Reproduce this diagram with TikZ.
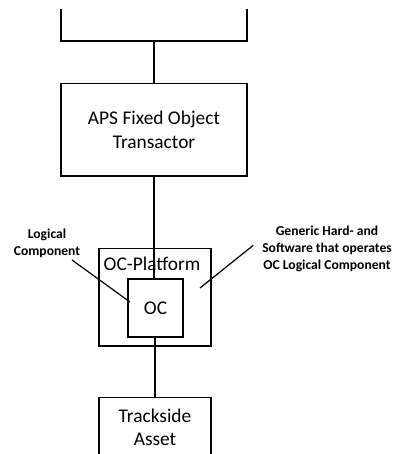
\documentclass[tikz,border=0pt]{standalone}
\usepackage{fontspec}
\setmainfont{Carlito}
\begin{document}
\begin{tikzpicture}[x=1pt,y=-1pt,
  box/.style={draw,line width=1.4pt,inner sep=0pt},
  maintext/.style={font=\fontsize{19.4}{23.3}\selectfont,align=center,inner sep=0pt},
  notetext/.style={font=\fontsize{13.6}{17}\selectfont\bfseries,align=center,inner sep=0pt},
  wire/.style={line width=1.4pt}]
\useasboundingbox (0,0) rectangle (403,454);
\begin{scope}
\clip (0,10) rectangle (403,454);
% upper system block, cut off at the top edge
\node[box,minimum width=186pt,minimum height=71pt] (top) at (154,5.5) {};
% transactor block
\node[box,minimum width=186pt,minimum height=92.5pt,maintext] (aps) at (154,129.75) {APS Fixed Object\\Transactor};
% platform with the logical component inside
\node[box,minimum width=112pt,minimum height=97.3pt] (plat) at (155,297.35) {};
\node[maintext] (platlabel) at (152,263.7) {OC-Platform};
\node[box,minimum width=55pt,minimum height=58.3pt,maintext,fill=white] (oc) at (155.5,308) {OC};
% trackside asset, cut off at the bottom edge
\node[box,minimum width=112pt,minimum height=84.6pt] (track) at (155,440) {};
\node[maintext] (tracklabel) at (155,427) {Trackside\\Asset};
% connections
\draw[wire] (top.south) -- (aps.north);
\draw[wire] (aps.south) -- (aps.south |- oc.north);
\draw[wire] (oc.south -| 155,0) -- (track.north -| 155,0);
\end{scope}
% annotations
\node[notetext] (lognote) at (47,243.5) {Logical\\Component};
\node[notetext] (gennote) at (327,249) {Generic Hard- and\\Software that operates\\OC Logical Component};
\coordinate (logstart) at (72,260);
\coordinate (logend) at (130,302);
\coordinate (genstart) at (253.3,245.3);
\coordinate (genend) at (200,288);
\draw[wire,line width=1.2pt] (logstart) -- (logend);
\draw[wire,line width=1.2pt] (genstart) -- (genend);
\end{tikzpicture}
\end{document}
